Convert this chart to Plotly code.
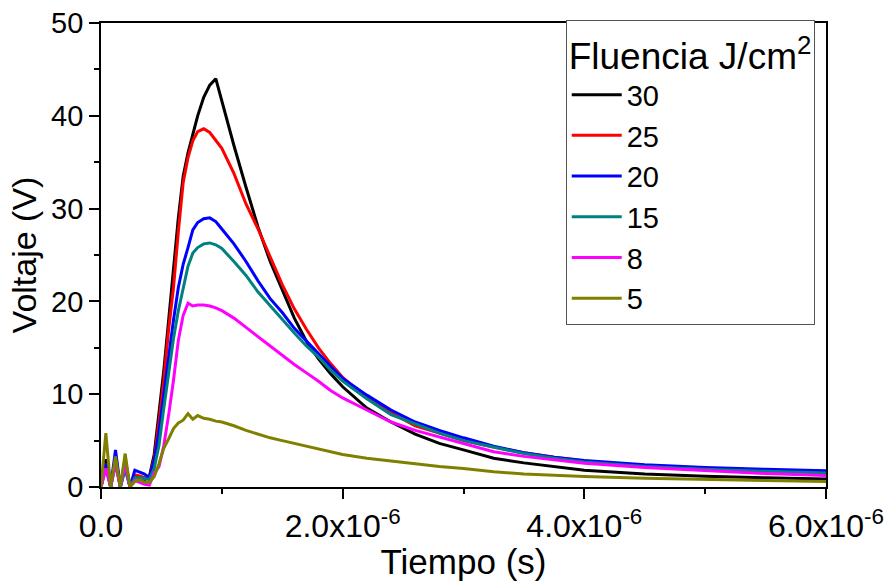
import plotly.graph_objects as go

# time in microseconds
time_us = [0, 0.04, 0.08, 0.12, 0.16, 0.20, 0.24, 0.28, 0.32, 0.36, 0.40, 0.44, 0.48, 0.52, 0.56,
           0.60, 0.64, 0.68, 0.72, 0.76, 0.80, 0.85, 0.90, 0.95, 1.0, 1.1, 1.2, 1.3, 1.4, 1.5,
           1.6, 1.7, 1.8, 1.9, 2.0, 2.2, 2.4, 2.6, 2.8, 3.0, 3.25, 3.5, 3.75, 4.0, 4.5, 5.0, 5.5, 6.0]

v30 = [0, 3.0, 0, 3.2, 0, 3.0, 0, 1.2, 1.0, 0.8, 1.1, 3.5, 8.0, 12.6, 18.0,
       23.4, 29.0, 33.5, 36.0, 38.0, 40.0, 42.0, 43.3, 44.0, 41.5, 36.8, 32.3, 28.0, 24.3, 21.2,
       18.2, 15.7, 13.8, 12.2, 10.8, 8.5, 7.0, 5.7, 4.7, 4.0, 3.1, 2.6, 2.2, 1.8, 1.4, 1.15, 1.0, 0.86]

v25 = [0, 2.5, 0, 3.0, 0, 2.8, 0, 1.3, 1.2, 1.0, 1.0, 3.0, 7.0, 11.5, 17.0,
       21.5, 27.5, 32.8, 35.5, 37.3, 38.3, 38.6, 38.2, 37.4, 36.5, 33.8, 30.5, 27.8, 24.8, 21.8,
       19.2, 17.0, 15.0, 13.3, 11.8, 9.6, 8.0, 6.6, 5.8, 5.0, 4.3, 3.7, 3.2, 2.8, 2.3, 1.95, 1.75, 1.6]

v20 = [0, 2.5, 0, 4.0, 0, 2.0, 0, 1.8, 1.6, 1.4, 1.0, 2.8, 6.0, 10.0, 14.5,
       18.0, 21.5, 24.0, 25.8, 27.7, 28.5, 28.9, 29.0, 28.6, 27.8, 26.2, 24.3, 22.2, 20.3, 18.8,
       17.1, 15.7, 14.3, 13.0, 11.7, 9.9, 8.3, 7.0, 6.1, 5.3, 4.4, 3.7, 3.2, 2.85, 2.4, 2.1, 1.9, 1.75]

v15 = [0, 2.0, 0, 2.5, 0, 2.0, 0, 1.0, 1.0, 0.9, 0.8, 2.0, 4.5, 8.5, 12.5,
       16.0, 19.0, 21.5, 23.8, 25.2, 25.8, 26.2, 26.3, 26.1, 25.7, 24.3, 22.8, 21.0, 19.5, 18.1,
       16.6, 15.2, 14.0, 12.6, 11.4, 9.5, 7.8, 6.8, 5.8, 5.0, 4.3, 3.6, 3.1, 2.7, 2.2, 1.9, 1.7, 1.5]

v8 = [0, 2.0, 0, 2.5, 0, 2.5, 0, 0.7, 0.5, 0.3, 0.2, 1.5, 2.2, 4.5, 7.8,
      11.5, 15.8, 18.5, 19.8, 19.5, 19.6, 19.6, 19.5, 19.3, 19.0, 18.2, 17.2, 16.2, 15.1, 14.1,
      13.2, 12.3, 11.4, 10.4, 9.6, 8.3, 7.0, 6.1, 5.4, 4.7, 3.8, 3.3, 2.9, 2.55, 2.1, 1.75, 1.45, 1.25]

v5 = [0, 5.8, 0, 3.3, 0, 3.6, 0, 0.6, 0.8, 0.5, 0.5, 1.1, 2.5, 4.2, 5.2,
      6.3, 6.9, 7.2, 7.9, 7.3, 7.7, 7.4, 7.3, 7.1, 7.0, 6.6, 6.1, 5.7, 5.3, 5.0,
      4.7, 4.4, 4.1, 3.8, 3.5, 3.1, 2.8, 2.5, 2.2, 2.0, 1.65, 1.4, 1.25, 1.12, 0.95, 0.8, 0.7, 0.6]

labels = ["30", "25", "20", "15", "8", "5"]
colors = ["#000000", "#FF0000", "#0000FF", "#008080", "#FF00FF", "#808000"]
series = [v30, v25, v20, v15, v8, v5]

x_tickvals = [0, 2e-6, 4e-6, 6e-6]
x_ticktext = ["0.0", "2.0x10<sup>-6</sup>", "4.0x10<sup>-6</sup>", "6.0x10<sup>-6</sup>"]
y_tickvals = [0, 10, 20, 30, 40, 50]

time_s = [t * 1e-6 for t in time_us]

fig = go.Figure()
for lab, col, vals in zip(labels, colors, series):
    fig.add_trace(go.Scatter(x=time_s, y=vals, mode="lines", name=lab,
                             line=dict(color=col, width=3)))

FONT = "Liberation Sans, Arial, sans-serif"

fig.update_layout(
    width=893, height=581,
    margin=dict(l=101, r=67, t=23, b=94),
    paper_bgcolor="white", plot_bgcolor="white",
    font=dict(family=FONT, color="black"),
    showlegend=True,
    legend=dict(
        x=0.641, y=1.006, xanchor="left", yanchor="top",
        bgcolor="white", bordercolor="#555555", borderwidth=1,
        font=dict(size=29, family=FONT, color="black"),
        title=dict(text="Fluencia J/cm<sup>2</sup>", font=dict(size=37, family=FONT, color="black"), side="top"),
        tracegroupgap=0, itemwidth=50, maxheight=400,
    ),
    xaxis=dict(
        range=[0, 6e-6], tickmode="array", tickvals=x_tickvals, ticktext=x_ticktext,
        showgrid=False, zeroline=False, showline=True, linecolor="black", linewidth=1.8,
        mirror=True, ticks="outside", ticklen=10, tickwidth=1.8, tickcolor="black",
        tickfont=dict(size=32, family=FONT, color="black"), automargin=False,
        minor=dict(tickmode="array", tickvals=[1e-6, 3e-6, 5e-6], ticks="outside", ticklen=5,
                   tickwidth=1.8, tickcolor="black", showgrid=False),
        title=dict(text="Tiempo (s)", font=dict(size=35, family=FONT, color="black")),
    ),
    yaxis=dict(
        range=[0, 50], tickmode="array", tickvals=y_tickvals,
        showgrid=False, zeroline=False, showline=True, linecolor="black", linewidth=1.8,
        mirror=True, ticks="outside", ticklen=10, tickwidth=1.8, tickcolor="black",
        tickfont=dict(size=29, family=FONT, color="black"), automargin=False,
        minor=dict(tickmode="array", tickvals=[5, 15, 25, 35, 45], ticks="outside", ticklen=5,
                   tickwidth=1.8, tickcolor="black", showgrid=False),
        title=dict(text="Voltaje (V)", font=dict(size=34, family=FONT, color="black"), standoff=4),
    ),
)

fig.write_html("out.html")
